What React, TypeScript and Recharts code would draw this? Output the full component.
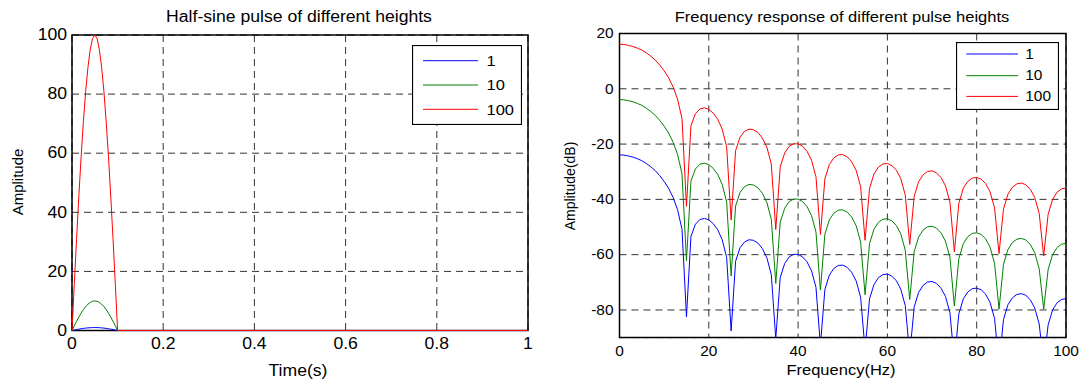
import { LineChart, Line, XAxis, YAxis, CartesianGrid, ReferenceArea, Legend } from 'recharts';

const FONT = '"Liberation Sans", Arial, Helvetica, sans-serif';

// ---- left plot: half-sine pulse, sampled every 5 ms, zero after 0.1 s
const timeSec = [0, 0.005, 0.01, 0.015, 0.02, 0.025, 0.03, 0.035, 0.04, 0.045, 0.05, 0.055, 0.06, 0.065, 0.07, 0.075, 0.08, 0.085, 0.09, 0.095, 0.1, 1];
const pulse1 = [0, 0.156, 0.309, 0.454, 0.588, 0.707, 0.809, 0.891, 0.951, 0.988, 1, 0.988, 0.951, 0.891, 0.809, 0.707, 0.588, 0.454, 0.309, 0.156, 0, 0];
const pulse10 = [0, 1.56, 3.09, 4.54, 5.88, 7.07, 8.09, 8.91, 9.51, 9.88, 10, 9.88, 9.51, 8.91, 8.09, 7.07, 5.88, 4.54, 3.09, 1.56, 0, 0];
const pulse100 = [0, 15.6, 30.9, 45.4, 58.8, 70.7, 80.9, 89.1, 95.1, 98.8, 100, 98.8, 95.1, 89.1, 80.9, 70.7, 58.8, 45.4, 30.9, 15.6, 0, 0];
const timeTicks = [0, 0.2, 0.4, 0.6, 0.8, 1];
const ampTicks = [0, 20, 40, 60, 80, 100];

// ---- right plot: magnitude in dB, 1 Hz steps 0..100
const freqHz = Array.from({ length: 101 }, (_, i) => i);
const resp1 = [
  -23.9, -24.0, -24.3, -24.7, -25.3, -26.0, -27.0, -28.2, -29.6, -31.4,
  -33.5, -36.0, -39.3, -43.7, -50.8, -82.5, -53.4, -49.0, -47.3, -46.9,
  -47.4, -48.8, -51.0, -54.6, -61.0, -87.6, -62.4, -57.5, -55.4, -54.6,
  -54.8, -55.8, -57.8, -61.1, -67.2, -90.4, -68.2, -63.2, -60.8, -59.9,
  -59.9, -60.8, -62.6, -65.8, -71.8, -92.8, -72.6, -67.4, -65.0, -63.9,
  -63.8, -64.6, -66.4, -69.5, -75.4, -94.5, -76.0, -70.8, -68.3, -67.2,
  -67.0, -67.8, -69.4, -72.5, -78.4, -96.2, -78.9, -73.6, -71.1, -69.9,
  -69.7, -70.4, -72.1, -75.1, -80.9, -98.6, -81.4, -76.0, -73.5, -72.3,
  -72.1, -72.7, -74.3, -77.3, -83.1, -99.7, -83.5, -78.1, -75.6, -74.4,
  -74.1, -74.7, -76.3, -79.3, -85.1, -99.7, -85.4, -80.0, -77.4, -76.2,
  -75.9,
];
const resp10 = [
  -3.9, -4.0, -4.3, -4.7, -5.3, -6.0, -7.0, -8.2, -9.6, -11.4,
  -13.5, -16.0, -19.3, -23.7, -30.8, -62.2, -33.4, -29.0, -27.3, -26.9,
  -27.4, -28.8, -31.0, -34.6, -41.0, -67.7, -42.4, -37.5, -35.4, -34.6,
  -34.8, -35.8, -37.8, -41.1, -47.2, -70.4, -48.2, -43.2, -40.8, -39.9,
  -39.9, -40.8, -42.6, -45.8, -51.8, -72.8, -52.6, -47.4, -45.0, -43.9,
  -43.8, -44.6, -46.4, -49.5, -55.4, -74.5, -56.0, -50.8, -48.3, -47.2,
  -47.0, -47.8, -49.4, -52.5, -58.4, -76.2, -58.9, -53.6, -51.1, -49.9,
  -49.7, -50.4, -52.1, -55.1, -60.9, -78.6, -61.4, -56.0, -53.5, -52.3,
  -52.1, -52.7, -54.3, -57.3, -63.1, -79.7, -63.5, -58.1, -55.6, -54.4,
  -54.1, -54.7, -56.3, -59.3, -65.1, -79.7, -65.4, -60.0, -57.4, -56.2,
  -55.9,
];
const resp100 = [
  16.1, 16.0, 15.7, 15.3, 14.7, 14.0, 13.0, 11.8, 10.4, 8.6,
  6.5, 4.0, 0.7, -3.7, -10.8, -42.5, -13.4, -9.0, -7.3, -6.9,
  -7.4, -8.8, -11.0, -14.6, -21.0, -47.5, -22.4, -17.5, -15.4, -14.6,
  -14.8, -15.8, -17.8, -21.1, -27.2, -50.9, -28.2, -23.2, -20.8, -19.9,
  -19.9, -20.8, -22.6, -25.8, -31.8, -52.7, -32.6, -27.4, -25.0, -23.9,
  -23.8, -24.6, -26.4, -29.5, -35.4, -54.8, -36.0, -30.8, -28.3, -27.2,
  -27.0, -27.8, -29.4, -32.5, -38.4, -56.3, -38.9, -33.6, -31.1, -29.9,
  -29.7, -30.4, -32.1, -35.1, -40.9, -59.0, -41.4, -36.0, -33.5, -32.3,
  -32.1, -32.7, -34.3, -37.3, -43.1, -59.6, -43.5, -38.1, -35.6, -34.4,
  -34.1, -34.7, -36.3, -39.3, -45.1, -60.5, -45.4, -40.0, -37.4, -36.2,
  -35.9,
];
const freqTicks = [0, 20, 40, 60, 80, 100];
const dbTicks = [-80, -60, -40, -20, 0, 20];

const heights = ['1', '10', '100'];
const colors = ['#0000ff', '#008000', '#ff0000'];

const pulseRows = timeSec.map((t, i) => ({ t, h1: pulse1[i], h10: pulse10[i], h100: pulse100[i] }));
const respRows = freqHz.map((f, i) => ({ f, h1: resp1[i], h10: resp10[i], h100: resp100[i] }));

// matlab exports look a bit stretched sideways
const xTick = (size: number, dy: number) => ({ x, y, payload }: any) => (
  <text transform={`translate(${x},${y + dy}) scale(1.1,1)`} textAnchor="middle" dominantBaseline="central"
    fontSize={size} fontFamily={FONT} fill="#000">{String(payload.value)}</text>
);
const yTick = (size: number, gap: number) => ({ x, y, payload }: any) => (
  <text transform={`translate(${x - gap},${y}) scale(1.1,1)`} textAnchor="end" dominantBaseline="central"
    fontSize={size} fontFamily={FONT} fill="#000">{String(payload.value)}</text>
);

const legendBox = (w: number, h: number, rows: number[], x1: number, x2: number, tx: number, size: number) => ({ payload }: any) => (
  <svg width={w} height={h} style={{ display: 'block' }}>
    <rect x={0.5} y={0.5} width={w - 1} height={h - 1} fill="#fff" stroke="#000" strokeWidth={1.2} />
    {(payload || []).map((p: any, i: number) => (
      <g key={i}>
        <line x1={x1} x2={x2} y1={rows[i]} y2={rows[i]} stroke={p.color} strokeWidth={1} />
        <text transform={`translate(${tx},${rows[i]}) scale(1.1,1)`} dominantBaseline="central" fontSize={size} fontFamily={FONT} fill="#000">{p.value}</text>
      </g>
    ))}
  </svg>
);

const Caption = ({ x, y, size, rotate, children }: any) => (
  <div style={{
    position: 'absolute', left: x, top: y, fontSize: size, fontFamily: FONT, whiteSpace: 'nowrap', color: '#000', lineHeight: 1,
    transform: rotate ? 'translate(-50%,-50%) rotate(-90deg)' : 'translate(-50%,-50%) scaleX(1.1)',
  }}>{children}</div>
);

const gridProps = { stroke: '#333', strokeDasharray: '7 5', strokeWidth: 1 };

const App = () => {
  return (
    <div style={{ position: 'absolute', left: 0, top: 0, width: 1083, height: 381, background: '#fff', overflow: 'hidden' }}>
      <div style={{ position: 'absolute', left: 0, top: 0 }}>
        <LineChart width={545} height={381} data={pulseRows} margin={{ top: 35, right: 17, bottom: 20.5, left: 32 }}>
          <CartesianGrid {...gridProps} />
          <XAxis dataKey="t" type="number" domain={[0, 1]} ticks={timeTicks} height={30} axisLine={false} tickLine={false} tickSize={0} tickMargin={0} tick={xTick(16, 13.5)} />
          <YAxis type="number" domain={[0, 100]} ticks={ampTicks} width={40} axisLine={false} tickLine={false} tickSize={0} tickMargin={0} tick={yTick(16, 5)} />
          <ReferenceArea x1={0} x2={1} y1={0} y2={100} fill="none" stroke="#000" strokeWidth={1.5} />
          <Line dataKey="h1" name={heights[0]} stroke={colors[0]} strokeWidth={1} dot={false} type="linear" isAnimationActive={false} />
          <Line dataKey="h10" name={heights[1]} stroke={colors[1]} strokeWidth={1} dot={false} type="linear" isAnimationActive={false} />
          <Line dataKey="h100" name={heights[2]} stroke={colors[2]} strokeWidth={1} dot={false} type="linear" isAnimationActive={false} />
          <Legend layout="horizontal" verticalAlign="middle" align="center"
            wrapperStyle={{ left: 411.5, top: 45, width: 110, height: 80 }}
            content={legendBox(110, 80, [15.7, 40, 64.3], 11, 66, 74.5, 15)} />
        </LineChart>
      </div>
      <div style={{ position: 'absolute', left: 545, top: 0 }}>
        <LineChart width={538} height={381} data={respRows} margin={{ top: 33.5, right: 17, bottom: 13.4, left: 24.5 }}>
          <CartesianGrid {...gridProps} />
          <XAxis dataKey="f" type="number" domain={[0, 100]} ticks={freqTicks} height={30} axisLine={false} tickLine={false} tickSize={0} tickMargin={0} tick={xTick(14, 13.2)} />
          <YAxis type="number" domain={[-90, 20]} ticks={dbTicks} allowDataOverflow width={50} axisLine={false} tickLine={false} tickSize={0} tickMargin={0} tick={yTick(14, 6)} />
          <ReferenceArea x1={0} x2={100} y1={-90} y2={20} fill="none" stroke="#000" strokeWidth={1.5} />
          <Line dataKey="h1" name={heights[0]} stroke={colors[0]} strokeWidth={1} dot={false} type="linear" isAnimationActive={false} />
          <Line dataKey="h10" name={heights[1]} stroke={colors[1]} strokeWidth={1} dot={false} type="linear" isAnimationActive={false} />
          <Line dataKey="h100" name={heights[2]} stroke={colors[2]} strokeWidth={1} dot={false} type="linear" isAnimationActive={false} />
          <Legend layout="horizontal" verticalAlign="middle" align="center"
            wrapperStyle={{ left: 410.5, top: 42.3, width: 103, height: 68 }}
            content={legendBox(103, 68, [12, 33.7, 54.4], 10.3, 62, 69.3, 14)} />
        </LineChart>
      </div>
      <Caption x={299} y={16.5} size={16}>Half-sine pulse of different heights</Caption>
      <Caption x={841.5} y={16} size={15}>Frequency response of different pulse heights</Caption>
      <Caption x={298} y={370.5} size={16}>Time(s)</Caption>
      <Caption x={841} y={369} size={15}>Frequency(Hz)</Caption>
      <Caption x={16.5} y={182} size={15} rotate>Amplitude</Caption>
      <Caption x={570} y={186} size={14} rotate>Amplitude(dB)</Caption>
    </div>
  );
};

export default App;
